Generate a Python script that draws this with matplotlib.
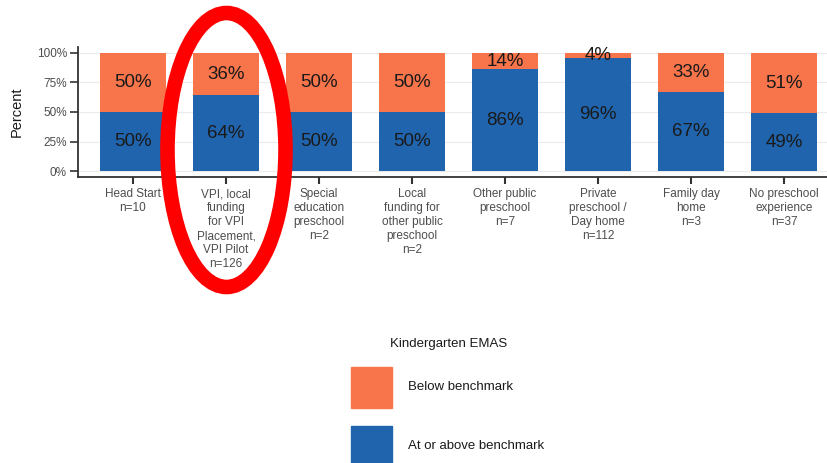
import matplotlib
matplotlib.use("Agg")
import matplotlib.pyplot as plt
from matplotlib.patches import Ellipse, Rectangle
import numpy as np

# Data
categories = [
    "Head Start\nn=10",
    "VPI, local\nfunding\nfor VPI\nPlacement,\nVPI Pilot\nn=126",
    "Special\neducation\npreschool\nn=2",
    "Local\nfunding for\nother public\npreschool\nn=2",
    "Other public\npreschool\nn=7",
    "Private\npreschool /\nDay home\nn=112",
    "Family day\nhome\nn=3",
    "No preschool\nexperience\nn=37",
]
at_or_above = [50, 64, 50, 50, 86, 96, 67, 49]
below = [50, 36, 50, 50, 14, 4, 33, 51]
y_ticks = [0, 25, 50, 75, 100]

orange = "#F8744A"
blue = "#1F64AD"

plt.rcParams["font.family"] = ["Liberation Sans", "DejaVu Sans"]

fig = plt.figure(figsize=(8.28, 4.63), dpi=100)
ax = fig.add_axes([78 / 828, 286 / 463, 1 - 78 / 828, (416 - 286) / 463])

x = np.arange(len(categories))
ax.bar(x, at_or_above, width=0.71, color=blue, zorder=2)
ax.bar(x, below, width=0.71, bottom=at_or_above, color=orange, zorder=2)

# Percent labels in the middle of each segment
for i in range(len(categories)):
    ax.text(x[i], at_or_above[i] / 2, f"{at_or_above[i]}%", ha="center", va="center",
            fontsize=13.5, color="#1a1a1a", zorder=3)
    ax.text(x[i], at_or_above[i] + below[i] / 2, f"{below[i]}%", ha="center", va="center",
            fontsize=13.5, color="#1a1a1a", zorder=3)

ax.set_xlim(-0.59, 7.47)
ax.set_ylim(-5, 105)
ax.set_yticks(y_ticks)
ax.set_yticklabels([f"{t}%" for t in y_ticks])
ax.set_xticks(x)
ax.set_xticklabels(categories, fontsize=8.5, color="#4d4d4d", linespacing=1.22)
ax.tick_params(axis="y", labelsize=8.5, labelcolor="#4d4d4d", length=6, width=1.2,
               color="#333333", pad=2)
ax.tick_params(axis="x", length=5, width=1.5, color="#333333", pad=3)
ax.set_ylabel("Percent", fontsize=10.5, color="#1a1a1a", labelpad=9)

ax.grid(axis="y", color="#ebebeb", linewidth=0.8, zorder=0)
ax.set_axisbelow(True)
for side in ["top", "right"]:
    ax.spines[side].set_visible(False)
for side in ["left", "bottom"]:
    ax.spines[side].set_color("#333333")
    ax.spines[side].set_linewidth(1.3)

# Legend drawn below the plot
fig.text(390 / 828, 1 - 344 / 463, "Kindergarten EMAS", fontsize=9.5, color="#1a1a1a",
         ha="left", va="center")
legend_items = [("Below benchmark", orange), ("At or above benchmark", blue)]
for k, (label, col) in enumerate(legend_items):
    top = 367 + k * 59
    fig.patches.append(Rectangle((351 / 828, 1 - (top + 41) / 463), 41 / 828, 41 / 463,
                                 transform=fig.transFigure, color=col))
    fig.text(408 / 828, 1 - (top + 20) / 463, label, fontsize=9.5, color="#1a1a1a",
             ha="left", va="center")

# Red highlight ring around the VPI bar
ring = Ellipse((2.265, 4.63 - 1.50), 1.18, 2.74, transform=fig.dpi_scale_trans,
               fill=False, edgecolor="#FF0000", linewidth=10.5, zorder=10)
fig.patches.append(ring)

fig.savefig("out.png", dpi=100)
